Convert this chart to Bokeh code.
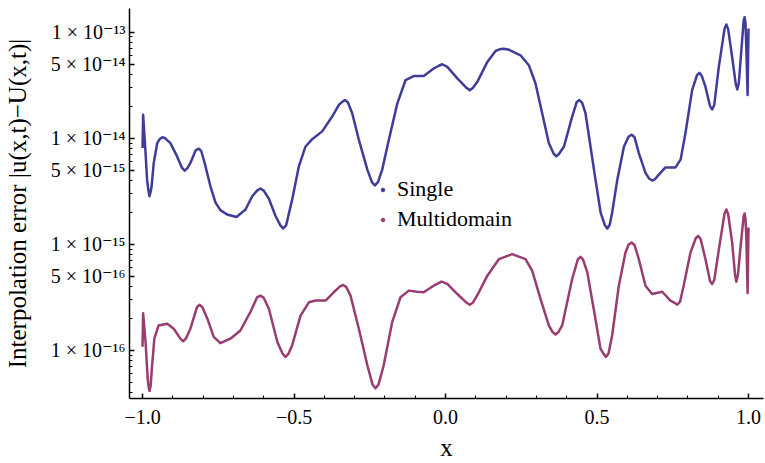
from bokeh.plotting import figure
from bokeh.models import (FixedTicker, CustomJSTickFormatter, Legend, LegendItem, Range1d)
from bokeh.embed import file_html
from bokeh.resources import INLINE

# ---- data ----
x_single = [-1.000, -0.998, -0.990, -0.985, -0.981, -0.977, -0.973, -0.970, -0.963, -0.9515,
            -0.944, -0.935, -0.925, -0.908, -0.886, -0.870, -0.861, -0.852, -0.842, -0.825,
            -0.822, -0.814, -0.806, -0.795, -0.776, -0.759, -0.743, -0.721, -0.690, -0.660,
            -0.638, -0.622, -0.611, -0.600, -0.583, -0.561, -0.545, -0.536, -0.526, -0.506,
            -0.484, -0.462, -0.440, -0.407, -0.374, -0.352, -0.342, -0.332, -0.322, -0.308,
            -0.286, -0.258, -0.243, -0.233, -0.223, -0.209, -0.187, -0.159, -0.132, -0.105,
            -0.072, -0.039, -0.022, -0.011, 0.006, 0.039, 0.070, 0.080, 0.090, 0.105,
            0.138, 0.165, 0.178, 0.192, 0.210, 0.2475, 0.275, 0.297, 0.319, 0.341,
            0.357, 0.366, 0.375, 0.391, 0.418, 0.433, 0.442, 0.451, 0.462, 0.4785,
            0.495, 0.512, 0.526, 0.534, 0.542, 0.550, 0.567, 0.589, 0.604, 0.614,
            0.624, 0.638, 0.660, 0.672, 0.682, 0.692, 0.704, 0.726, 0.759, 0.776,
            0.792, 0.814, 0.830, 0.838, 0.846, 0.858, 0.873, 0.880, 0.887, 0.902,
            0.921, 0.927, 0.933, 0.946, 0.958, 0.963, 0.968, 0.979, 0.984, 0.987,
            0.990, 0.993, 0.997, 1.000]
y_single = [8.07e-15, 1.66e-14, 7.24e-15, 4.07e-15, 3.28e-15, 2.84e-15, 3.15e-15, 3.52e-15, 5.85e-15, 9.0e-15,
            9.77e-15, 1.02e-14, 9.98e-15, 9.0e-15, 6.74e-15, 5.28e-15, 4.94e-15, 5.23e-15, 5.85e-15, 7.67e-15,
            7.78e-15, 7.96e-15, 7.54e-15, 5.85e-15, 3.52e-15, 2.47e-15, 2.10e-15, 1.91e-15, 1.81e-15, 2.13e-15,
            2.84e-15, 3.21e-15, 3.36e-15, 3.21e-15, 2.69e-15, 1.85e-15, 1.51e-15, 1.41e-15, 1.51e-15, 2.65e-15,
            5.43e-15, 8.36e-15, 9.8e-15, 1.16e-14, 1.60e-14, 2.06e-14, 2.19e-14, 2.29e-14, 2.17e-14, 1.72e-14,
            9.66e-15, 5.06e-15, 3.86e-15, 3.58e-15, 3.86e-15, 5.06e-15, 9.66e-15, 2.13e-14, 3.52e-14, 3.85e-14,
            3.85e-14, 4.54e-14, 4.82e-14, 4.98e-14, 4.70e-14, 3.66e-14, 2.97e-14, 2.84e-14, 2.97e-14, 3.40e-14,
            5.24e-14, 6.64e-14, 6.88e-14, 6.98e-14, 6.81e-14, 6.05e-14, 4.88e-14, 3.28e-14, 1.72e-14, 9.0e-15,
            7.14e-15, 6.74e-15, 7.14e-15, 8.36e-15, 1.60e-14, 2.19e-14, 2.29e-14, 2.15e-14, 1.72e-14, 8.36e-15,
            4.07e-15, 1.99e-15, 1.51e-15, 1.41e-15, 1.53e-15, 1.99e-15, 4.07e-15, 8.36e-15, 1.03e-14, 1.08e-14,
            1.02e-14, 7.24e-15, 4.71e-15, 4.17e-15, 3.99e-15, 4.12e-15, 4.54e-15, 5.31e-15, 5.31e-15, 6.28e-15,
            1.12e-14, 2.84e-14, 3.93e-14, 4.13e-14, 3.85e-14, 3.05e-14, 2.01e-14, 1.87e-14, 2.06e-14, 4.70e-14,
            1.08e-13, 1.18e-13, 1.06e-13, 5.83e-14, 3.24e-14, 2.88e-14, 3.31e-14, 8.4e-14, 1.29e-13, 1.38e-13,
            1.23e-13, 6.74e-14, 2.55e-14, 1.08e-13]

x_multi = [-1.000, -0.998, -0.990, -0.983, -0.981, -0.977, -0.973, -0.970, -0.961, -0.947,
           -0.9185, -0.897, -0.875, -0.866, -0.857, -0.842, -0.820, -0.811, -0.802, -0.786,
           -0.765, -0.743, -0.710, -0.677, -0.644, -0.622, -0.611, -0.600, -0.583, -0.555,
           -0.538, -0.528, -0.518, -0.506, -0.4785, -0.451, -0.429, -0.396, -0.369, -0.348,
           -0.338, -0.328, -0.3135, -0.286, -0.258, -0.241, -0.231, -0.221, -0.204, -0.176,
           -0.1485, -0.121, -0.0935, -0.072, -0.039, -0.013, 0.006, 0.039, 0.070, 0.080,
           0.090, 0.110, 0.138, 0.176, 0.220, 0.264, 0.286, 0.3135, 0.341, 0.354,
           0.363, 0.372, 0.385, 0.418, 0.437, 0.4455, 0.454, 0.468, 0.489, 0.5115,
           0.522, 0.530, 0.538, 0.550, 0.572, 0.594, 0.604, 0.614, 0.624, 0.638,
           0.660, 0.682, 0.715, 0.7425, 0.756, 0.765, 0.774, 0.786, 0.8085, 0.826,
           0.834, 0.842, 0.858, 0.873, 0.880, 0.887, 0.904, 0.921, 0.927, 0.933,
           0.946, 0.956, 0.960, 0.965, 0.974, 0.984, 0.987, 0.990, 0.993, 0.997,
           1.000]
y_multi = [1.08e-16, 2.24e-16, 1.20e-16, 5.45e-17, 4.78e-17, 4.14e-17, 4.68e-17, 6.3e-17, 1.29e-16, 1.72e-16,
           1.78e-16, 1.60e-16, 1.29e-16, 1.22e-16, 1.29e-16, 1.60e-16, 2.57e-16, 2.69e-16, 2.54e-16, 1.99e-16,
           1.34e-16, 1.17e-16, 1.29e-16, 1.54e-16, 2.30e-16, 3.16e-16, 3.28e-16, 3.13e-16, 2.47e-16, 1.20e-16,
           9.33e-17, 8.69e-17, 9.33e-17, 1.12e-16, 2.13e-16, 2.84e-16, 2.95e-16, 2.95e-16, 3.53e-16, 4.01e-16,
           4.14e-16, 3.97e-16, 3.28e-16, 1.60e-16, 7.24e-17, 4.78e-17, 4.39e-17, 4.78e-17, 7.24e-17, 1.85e-16,
           3.17e-16, 3.66e-16, 3.57e-16, 3.53e-16, 4.07e-16, 4.45e-16, 4.23e-16, 3.40e-16, 2.81e-16, 2.69e-16,
           2.81e-16, 3.53e-16, 5.06e-16, 7.24e-16, 8.07e-16, 7.24e-16, 5.64e-16, 3.06e-16, 1.72e-16, 1.48e-16,
           1.41e-16, 1.48e-16, 1.72e-16, 4.71e-16, 7.24e-16, 7.62e-16, 7.18e-16, 5.44e-16, 2.47e-16, 1.04e-16,
           9.23e-17, 8.69e-17, 9.33e-17, 1.39e-16, 4.07e-16, 8.38e-16, 9.91e-16, 1.04e-15, 9.8e-16, 7.24e-16,
           4.07e-16, 3.40e-16, 3.57e-16, 2.95e-16, 2.81e-16, 2.69e-16, 2.88e-16, 4.07e-16, 8.38e-16, 1.14e-15,
           1.20e-15, 1.12e-15, 7.24e-16, 4.51e-16, 4.23e-16, 4.61e-16, 9.66e-16, 1.95e-15, 2.13e-15, 1.91e-15,
           1.04e-15, 5.02e-16, 4.45e-16, 5.13e-16, 9.66e-16, 1.83e-15, 1.95e-15, 1.75e-15, 1.12e-15, 3.48e-16,
           1.44e-15]

series_names = ["Single", "Multidomain"]

y_major = [1e-16, 5e-16, 1e-15, 5e-15, 1e-14, 5e-14, 1e-13]
y_major_labels = ["1 × 10⁻¹⁶", "5 × 10⁻¹⁶", "1 × 10⁻¹⁵", "5 × 10⁻¹⁵",
                  "1 × 10⁻¹⁴", "5 × 10⁻¹⁴", "1 × 10⁻¹³"]
y_minor = [m * 10.0 ** e for e in range(-17, -12) for m in range(2, 10)]

x_major = [-1.0, -0.5, 0.0, 0.5, 1.0]
x_major_labels = ["−1.0", "−0.5", "0.0", "0.5", "1.0"]
x_minor = [round(-1.0 + 0.1 * i, 2) for i in range(21)]

X_START, X_END = -1.043, 1.0495
Y_START, Y_END = 3.52e-17, 1.67e-13

FONT = "Liberation Serif, DejaVu Serif"
BLUE = "#3f3d99"
RED = "#993d71"

p = figure(width=765, height=463, y_axis_type="log",
           x_range=Range1d(X_START, X_END), y_range=Range1d(Y_START, Y_END),
           output_backend="svg", toolbar_location=None,
           min_border_left=129, min_border_right=2, min_border_top=8, min_border_bottom=63)
p.outline_line_color = None
p.grid.visible = False
p.background_fill_color = "white"
p.border_fill_color = "white"

p.line(x_single, y_single, line_color=BLUE, line_width=2.5, line_join="round")
p.line(x_multi, y_multi, line_color=RED, line_width=2.5, line_join="round")

# legend markers (renderers with no visible data, shown only in the legend)
nan = float("nan")
d1 = p.scatter([nan], [nan], marker="circle", size=4, fill_color=BLUE, line_color=BLUE)
d2 = p.scatter([nan], [nan], marker="circle", size=4, fill_color=RED, line_color=RED)

legend = Legend(items=[LegendItem(label=series_names[0], renderers=[d1]),
                       LegendItem(label=series_names[1], renderers=[d2])],
                location=(249, 164), orientation="vertical",
                glyph_width=9, glyph_height=9, label_height=30, spacing=0,
                label_standoff=10, padding=0, margin=0,
                border_line_color=None, background_fill_alpha=0,
                label_text_font=FONT, label_text_font_size="22px", label_text_color="black")
p.add_layout(legend)

# axes
xa = p.xaxis[0]
xa.ticker = FixedTicker(ticks=x_major, minor_ticks=x_minor)
xa.formatter = CustomJSTickFormatter(args=dict(vals=x_major, labels=x_major_labels), code="""
for (let i = 0; i < vals.length; i++) { if (Math.abs(vals[i] - tick) < 1e-9) return labels[i]; }
return "";
""")
xa.axis_label = "x"

ya = p.yaxis[0]
ya.ticker = FixedTicker(ticks=y_major, minor_ticks=y_minor)
ya.formatter = CustomJSTickFormatter(args=dict(vals=y_major, labels=y_major_labels), code="""
const lt = Math.log10(tick);
for (let i = 0; i < vals.length; i++) { if (Math.abs(Math.log10(vals[i]) - lt) < 1e-6) return labels[i]; }
return "";
""")
ya.axis_label = "Interpolation error |u(x,t)−U(x,t)|"

for ax in (xa, ya):
    ax.axis_line_color = "black"
    ax.axis_line_width = 1.5
    ax.major_tick_in = 5
    ax.major_tick_out = 0
    ax.minor_tick_in = 3
    ax.minor_tick_out = 0
    ax.major_tick_line_color = "black"
    ax.minor_tick_line_color = "black"
    ax.major_tick_line_width = 1.5
    ax.minor_tick_line_width = 1
    ax.major_label_text_font = FONT
    ax.major_label_text_font_size = "20px"
    ax.major_label_text_color = "black"
    ax.axis_label_text_font = FONT
    ax.axis_label_text_font_size = "25px"
    ax.axis_label_text_font_style = "normal"
    ax.axis_label_text_color = "black"

xa.major_label_standoff = 11
xa.axis_label_standoff = 7
ya.major_label_standoff = 4
ya.axis_label_standoff = 17

open("out.html", "w").write(file_html(p, INLINE))
